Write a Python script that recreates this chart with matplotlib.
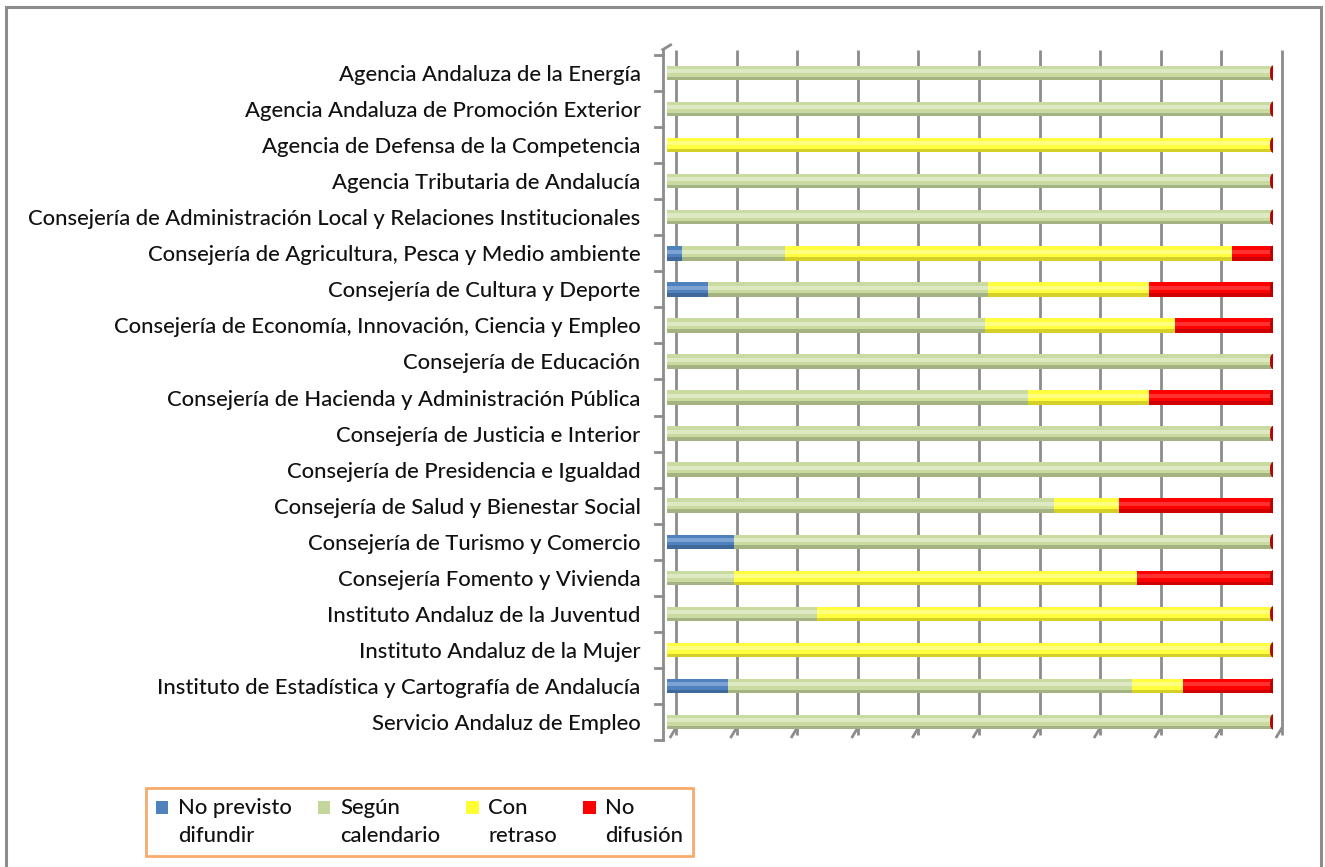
import matplotlib
matplotlib.use("Agg")
import matplotlib.pyplot as plt
import matplotlib.transforms as mtransforms
from matplotlib.patches import Ellipse, Rectangle
from matplotlib.legend_handler import HandlerPatch
import numpy as np

categories = [
    "Agencia Andaluza de la Energía",
    "Agencia Andaluza de Promoción Exterior",
    "Agencia de Defensa de la Competencia",
    "Agencia Tributaria de Andalucía",
    "Consejería de Administración Local y Relaciones Institucionales",
    "Consejería de Agricultura, Pesca y Medio ambiente",
    "Consejería de Cultura y Deporte",
    "Consejería de Economía, Innovación, Ciencia y Empleo",
    "Consejería de Educación",
    "Consejería de Hacienda y Administración Pública",
    "Consejería de Justicia e Interior",
    "Consejería de Presidencia e Igualdad",
    "Consejería de Salud y Bienestar Social",
    "Consejería de Turismo y Comercio",
    "Consejería Fomento y Vivienda",
    "Instituto Andaluz de la Juventud",
    "Instituto Andaluz de la Mujer",
    "Instituto de Estadística y Cartografía de Andalucía",
    "Servicio Andaluz de Empleo",
]

no_previsto = [0, 0, 0, 0, 0, 2.5, 6.7, 0, 0, 0, 0, 0, 0, 11.1, 0, 0, 0, 10.1, 0]
segun_cal   = [100, 100, 0, 100, 100, 17.0, 46.3, 52.4, 100, 59.5, 100, 100, 63.8, 88.9, 11.1, 24.8, 0, 66.6, 100]
con_retraso = [0, 0, 100, 0, 0, 73.8, 26.6, 31.4, 0, 20.1, 0, 0, 10.8, 0, 66.4, 75.2, 100, 8.4, 0]
no_difusion = [0, 0, 0, 0, 0, 6.7, 20.4, 16.2, 0, 20.4, 0, 0, 25.4, 0, 22.5, 0, 0, 14.9, 0]

series_names = ["No previsto\ndifundir", "Según\ncalendario", "Con\nretraso", "No\ndifusión"]
series_vals = [no_previsto, segun_cal, con_retraso, no_difusion]
# (main, light highlight, dark edge)
series_cols = [("#4F81BD", "#7DA3D4", "#3A6090"),
               ("#C9DBA0", "#DDE9C2", "#97A677"),
               ("#FFFF40", "#FFFF80", "#C8C020"),
               ("#FF0000", "#FF3030", "#C00000")]
legend_cols = ["#4F81BD", "#C3D69B", "#FFFF33", "#FF0000"]

FONT = "Lato"
FS = 15.8
W, H = 1325, 867
fig = plt.figure(figsize=(W / 100, H / 100), dpi=100)
fig.patch.set_facecolor("white")

# outer border
fig.add_artist(Rectangle((6 / W, -0.01), (1321 - 6) / W, 1.01 - 7 / H,
                         transform=fig.transFigure, fill=False,
                         edgecolor="#8C8C8C", linewidth=2.2))

ax = fig.add_axes([667 / W, 1 - 740 / H, 606 / W, (740 - 55) / H])
ax.set_xlim(0, 100)
n = len(categories)
ax.set_ylim(n - 0.5, -0.5)
for s in ax.spines.values():
    s.set_visible(False)
ax.set_xticks([])
ax.set_yticks(range(n))
ax.set_yticklabels(categories, fontsize=FS, family=FONT, color="#111111",
                   fontweight="medium")
ax.tick_params(axis="y", length=0, pad=19)

# back-wall gridlines with perspective offset
off = mtransforms.offset_copy(ax.transData, fig=fig, x=9, y=5, units="dots")
for gx in np.arange(0, 101, 10):
    ax.plot([gx, gx], [n - 0.5, -0.5], transform=off, color="#8C8C8C",
            lw=2.0, zorder=0, clip_on=False, solid_capstyle="butt")
    # slanted feet
    ax.plot([gx - 0.9, gx], [n - 0.5 + 0.05, n - 0.5 - 0.2], transform=off,
            color="#8C8C8C", lw=2.0, zorder=0, clip_on=False)

# left axis line and ticks
ax.plot([-0.7, -0.7], [n - 0.5 + 0.0, -0.65], color="#8C8C8C", lw=2.0,
        clip_on=False, zorder=1)
ax.plot([-0.7, 0.6], [-0.65, -0.78], color="#8C8C8C", lw=2.0, clip_on=False)
for yb in np.arange(-0.5, n + 0.5, 1.0):
    ax.plot([-1.9, -0.7], [yb, yb], color="#8C8C8C", lw=2.0, clip_on=False)

bh = 0.40
y = np.arange(n)
left = np.zeros(n)
for vals, (c, cl, cd) in zip(series_vals, series_cols):
    v = np.array(vals, dtype=float)
    ax.barh(y, v, left=left, height=bh, color=c, edgecolor="none", zorder=3)
    ax.barh(y - bh * 0.12, v, left=left, height=bh * 0.28, color=cl,
            edgecolor="none", zorder=4)
    ax.barh(y + bh * 0.38, v, left=left, height=bh * 0.24, color=cd,
            edgecolor="none", zorder=4, alpha=0.75)
    left = left + v

# end caps of cylinders
for yi, tot in zip(y, left):
    ax.add_patch(Ellipse((tot, yi), 0.9, bh, facecolor="#C00000",
                         edgecolor="#A00000", lw=0.5, zorder=5))


def raised_square(legend, orig_handle, xdescent, ydescent, width, height, fontsize):
    return Rectangle((-xdescent, -ydescent + 0.68 * fontsize), width, height)


handles = [Rectangle((0, 0), 1, 1, facecolor=c, edgecolor="none") for c in legend_cols]
leg = fig.legend(handles, series_names, loc="upper left",
                 bbox_to_anchor=(146 / W, 1 - 788 / H), ncol=4,
                 prop={"family": FONT, "size": FS, "weight": "medium"},
                 frameon=True, fancybox=False, handlelength=0.55,
                 handleheight=0.55, handletextpad=0.45, columnspacing=1.2,
                 borderpad=0.45, labelspacing=0.2, borderaxespad=0.0,
                 handler_map={Rectangle: HandlerPatch(patch_func=raised_square)})
leg.get_frame().set_edgecolor("#F79646")
leg.get_frame().set_linewidth(2.0)
for t in leg.get_texts():
    t.set_color("#111111")
    t.set_linespacing(1.5)

fig.savefig("out.png", dpi=100)
